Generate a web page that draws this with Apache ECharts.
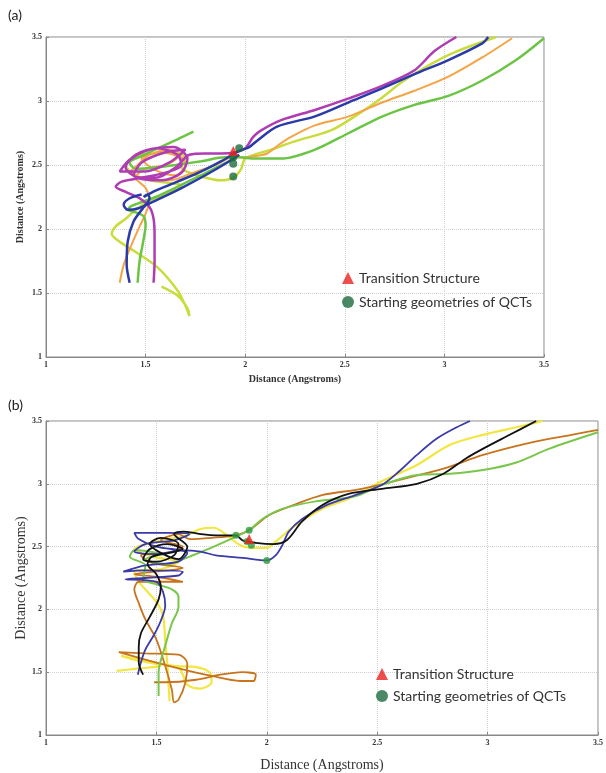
<!DOCTYPE html>
<html>
<head>
<meta charset="utf-8">
<script src="https://cdn.jsdelivr.net/npm/echarts@6/dist/echarts.min.js"></script>
<style>
	html, body { margin: 0; padding: 0; background: #fff; }
	#main { width: 606px; height: 773px; }
</style>
</head>
<body>
<div id="main"></div>
<script>
// ---- axis ticks (same for both panels)
var tickMin = 1, tickMax = 3.5, tickStep = 0.5;

// ---- panel (a) trajectories, [x, y] in Angstroms
var aMagenta = [[1.54,1.58],[1.545,1.75],[1.545,1.95],[1.54,2.08],[1.52,2.17],[1.47,2.24],[1.40,2.29],[1.35,2.33],[1.38,2.37],[1.48,2.40],[1.60,2.44],[1.68,2.50],[1.66,2.58],[1.56,2.63],[1.45,2.58],[1.40,2.48],[1.46,2.40],[1.58,2.38],[1.68,2.44],[1.71,2.55],[1.64,2.64],[1.52,2.62],[1.42,2.54],[1.37,2.45],[1.50,2.45],[1.62,2.52],[1.70,2.62],[1.60,2.60],[1.48,2.52],[1.44,2.42],[1.55,2.40],[1.65,2.48],[1.72,2.58],[1.80,2.59],[1.88,2.59],[1.95,2.60],[2.00,2.63],[2.04,2.72],[2.08,2.77],[2.18,2.85],[2.35,2.93],[2.52,3.02],[2.69,3.12],[2.85,3.24],[2.95,3.39],[3.06,3.50]];
var aBlue = [[1.42,1.58],[1.405,1.72],[1.41,1.90],[1.44,2.06],[1.49,2.17],[1.52,2.24],[1.51,2.27],[1.49,2.25],[1.55,2.30],[1.66,2.37],[1.78,2.45],[1.88,2.53],[1.97,2.61],[2.02,2.64],[2.06,2.69],[2.16,2.80],[2.35,2.88],[2.52,2.99],[2.69,3.10],[2.85,3.21],[3.02,3.32],[3.19,3.45],[3.22,3.50]];
var aBlueBack = [[1.97,2.58],[1.90,2.51],[1.80,2.42],[1.68,2.32],[1.56,2.23],[1.46,2.16],[1.41,2.15],[1.39,2.19],[1.42,2.24],[1.48,2.27]];
var aOrange = [[1.37,1.58],[1.39,1.72],[1.43,1.88],[1.47,2.02],[1.50,2.12],[1.52,2.22],[1.50,2.32],[1.45,2.40],[1.50,2.47],[1.60,2.50],[1.66,2.56],[1.58,2.60],[1.48,2.55],[1.55,2.46],[1.65,2.42],[1.70,2.50],[1.62,2.62],[1.52,2.58],[1.46,2.50],[1.42,2.44],[1.52,2.39],[1.62,2.38],[1.74,2.44],[1.85,2.50],[1.94,2.56],[1.99,2.56],[2.05,2.57],[2.11,2.59],[2.17,2.66],[2.23,2.72],[2.35,2.81],[2.52,2.88],[2.69,2.99],[2.85,3.08],[3.02,3.19],[3.19,3.34],[3.34,3.49]];
var aGreen = [[1.74,2.76],[1.66,2.70],[1.56,2.63],[1.48,2.57],[1.42,2.52],[1.45,2.47],[1.55,2.48],[1.65,2.50],[1.78,2.53],[1.90,2.56],[1.97,2.56],[2.05,2.55],[2.18,2.55],[2.35,2.62],[2.52,2.75],[2.69,2.88],[2.85,2.97],[3.02,3.04],[3.19,3.16],[3.36,3.32],[3.50,3.49]];
var aGreenBack = [[1.46,1.58],[1.47,1.75],[1.49,1.92],[1.50,2.03],[1.49,2.10],[1.45,2.13],[1.41,2.15],[1.43,2.18],[1.55,2.25],[1.66,2.33],[1.78,2.42],[1.88,2.50],[1.95,2.55]];
var aLime = [[1.58,1.55],[1.66,1.48],[1.71,1.38],[1.72,1.32],[1.70,1.40],[1.66,1.52],[1.56,1.70],[1.45,1.82],[1.37,1.90],[1.33,1.96],[1.35,2.02],[1.40,2.08],[1.45,2.15],[1.52,2.22],[1.60,2.27],[1.66,2.31],[1.68,2.34],[1.62,2.36],[1.52,2.38],[1.45,2.42],[1.40,2.50],[1.45,2.57],[1.55,2.59],[1.65,2.60],[1.70,2.55],[1.68,2.48],[1.72,2.44],[1.78,2.41],[1.87,2.38],[1.94,2.40],[1.98,2.47],[2.00,2.55],[2.13,2.62],[2.26,2.69],[2.43,2.77],[2.55,2.88],[2.69,3.03],[2.78,3.14],[2.90,3.26],[3.05,3.38],[3.26,3.50]];
var aTS = [[1.94,2.61]];
var aStart = [[1.97,2.63],[1.94,2.56],[1.94,2.51],[1.94,2.41]];

// ---- panel (b) trajectories
var bBlue = [[1.416,1.48],[1.43,1.58],[1.45,1.68],[1.49,1.80],[1.52,1.91],[1.54,2.03],[1.53,2.14],[1.50,2.22],[1.36,2.24],[1.45,2.25],[1.60,2.27],[1.62,2.30],[1.45,2.31],[1.35,2.30],[1.45,2.35],[1.60,2.38],[1.64,2.45],[1.50,2.50],[1.42,2.56],[1.40,2.61],[1.55,2.61],[1.65,2.60],[1.58,2.55],[1.45,2.52],[1.40,2.46],[1.50,2.44],[1.62,2.47],[1.70,2.46],[1.77,2.43],[1.89,2.41],[2.00,2.39],[2.04,2.43],[2.07,2.51],[2.10,2.62],[2.16,2.72],[2.27,2.83],[2.40,2.91],[2.52,2.99],[2.60,3.10],[2.68,3.23],[2.77,3.36],[2.86,3.45],[2.92,3.50]];
var bBlack = [[1.44,1.48],[1.42,1.58],[1.42,1.70],[1.43,1.81],[1.47,1.94],[1.51,2.08],[1.52,2.18],[1.50,2.28],[1.46,2.36],[1.48,2.42],[1.56,2.45],[1.62,2.48],[1.55,2.52],[1.47,2.48],[1.44,2.40],[1.50,2.38],[1.58,2.43],[1.60,2.52],[1.52,2.57],[1.47,2.52],[1.52,2.45],[1.60,2.40],[1.64,2.50],[1.58,2.60],[1.62,2.62],[1.70,2.60],[1.77,2.59],[1.86,2.59],[1.89,2.55],[1.95,2.53],[2.03,2.52],[2.09,2.55],[2.16,2.70],[2.25,2.83],[2.37,2.92],[2.52,2.96],[2.68,3.00],[2.80,3.08],[2.90,3.20],[2.98,3.28],[3.10,3.39],[3.22,3.50]];
var bYellow = [[1.56,1.27],[1.555,1.40],[1.55,1.55],[1.54,1.75],[1.53,1.95],[1.50,2.06],[1.46,2.14],[1.42,2.22],[1.40,2.30],[1.52,2.32],[1.60,2.38],[1.48,2.42],[1.40,2.48],[1.52,2.55],[1.62,2.58],[1.70,2.64],[1.76,2.65],[1.82,2.59],[1.88,2.51],[1.94,2.49],[2.00,2.49],[2.04,2.54],[2.13,2.67],[2.25,2.80],[2.37,2.88],[2.52,3.02],[2.68,3.15],[2.83,3.31],[2.98,3.39],[3.13,3.45],[3.25,3.50]];
var bYellowLoop = [[1.32,1.51],[1.42,1.53],[1.52,1.55],[1.40,1.60],[1.34,1.63],[1.45,1.59],[1.58,1.55],[1.68,1.54],[1.74,1.50],[1.75,1.42],[1.70,1.37],[1.64,1.40],[1.62,1.48],[1.60,1.55]];
var bOrange = [[1.49,1.42],[1.54,1.42],[1.68,1.44],[1.79,1.48],[1.89,1.50],[1.95,1.48],[1.94,1.43],[1.88,1.43],[1.75,1.47],[1.60,1.53],[1.45,1.60],[1.33,1.66],[1.45,1.65],[1.60,1.64],[1.64,1.57],[1.63,1.41],[1.60,1.28],[1.58,1.26],[1.57,1.36],[1.54,1.55],[1.50,1.76],[1.45,1.92],[1.42,2.05],[1.40,2.16],[1.42,2.22],[1.55,2.22],[1.62,2.22],[1.50,2.26],[1.40,2.28],[1.55,2.31],[1.62,2.33],[1.48,2.37],[1.43,2.43],[1.55,2.45],[1.62,2.50],[1.52,2.55],[1.60,2.60],[1.65,2.56],[1.75,2.57],[1.86,2.59],[1.92,2.63],[2.01,2.75],[2.12,2.83],[2.25,2.91],[2.43,2.96],[2.62,3.04],[2.80,3.12],[2.98,3.23],[3.20,3.33],[3.38,3.39],[3.50,3.43]];
var bGreen = [[1.51,1.31],[1.51,1.50],[1.54,1.71],[1.57,1.89],[1.60,2.02],[1.60,2.10],[1.57,2.16],[1.50,2.20],[1.44,2.24],[1.45,2.35],[1.38,2.42],[1.40,2.47],[1.52,2.44],[1.45,2.40],[1.55,2.36],[1.62,2.40],[1.65,2.42],[1.76,2.50],[1.86,2.58],[1.92,2.63],[1.98,2.72],[2.07,2.80],[2.22,2.86],[2.40,2.90],[2.52,2.99],[2.68,3.07],[2.83,3.08],[2.98,3.11],[3.13,3.17],[3.28,3.28],[3.50,3.41]];
var bTS = [[1.92,2.56]];
var bStart = [[1.86,2.59],[1.92,2.63],[1.91,2.54],[1.93,2.51],[2.00,2.39]];

var legendNames = ['Transition Structure', 'Starting geometries of QCTs'];

var chartDom = document.getElementById('main');
var myChart = echarts.init(chartDom, null, { renderer: 'canvas' });

function makeAxis(gi, name, nameSize, nameBold, nameGap) {
	return {
		type: 'value',
		gridIndex: gi,
		min: tickMin,
		max: tickMax,
		interval: tickStep,
		name: name,
		nameLocation: 'middle',
		nameGap: nameGap,
		nameMoveOverlap: false,
		nameTextStyle: {
			fontFamily: 'Liberation Serif',
			fontSize: nameSize,
			fontWeight: nameBold ? 'bold' : 'normal',
			color: '#333'
		},
		axisLine: { show: true, onZero: false, lineStyle: { color: '#888', width: 1 } },
		axisTick: { show: true, inside: true, length: 3, lineStyle: { color: '#888' } },
		axisLabel: {
			fontFamily: 'Liberation Serif',
			fontWeight: 'bold',
			fontSize: 8,
			color: '#333',
			margin: 4
		},
		splitLine: { show: true, lineStyle: { color: '#cfcfcf', type: 'dotted', width: 1 } }
	};
}

function traj(gi, data, color, w) {
	return {
		type: 'line',
		xAxisIndex: gi,
		yAxisIndex: gi,
		data: data,
		smooth: 0.3,
		showSymbol: false,
		symbol: 'none',
		silent: true,
		lineStyle: { color: color, width: w },
		z: 2
	};
}

function marks(gi, ts, st, dotColor, tsSize, dotSize) {
	return [{
		name: legendNames[0],
		type: 'scatter',
		xAxisIndex: gi,
		yAxisIndex: gi,
		data: ts,
		symbol: 'triangle',
		symbolSize: tsSize,
		itemStyle: { color: '#e8231e' },
		z: 5
	}, {
		name: legendNames[1],
		type: 'scatter',
		xAxisIndex: gi,
		yAxisIndex: gi,
		data: st,
		symbol: 'circle',
		symbolSize: dotSize,
		itemStyle: { color: dotColor },
		z: 4
	}];
}

var series = [
	traj(0, aLime, '#c8dc3c', 2.5),
	traj(0, aOrange, '#f5a445', 2),
	traj(0, aGreenBack, '#6cc444', 2.5),
	traj(0, aGreen, '#6cc444', 2.5),
	traj(0, aMagenta, '#b03cb4', 2.5),
	traj(0, aBlueBack, '#2a3aa8', 2.5),
	traj(0, aBlue, '#2a3aa8', 2.5),

	traj(1, bYellowLoop, '#f2e640', 2.2),
	traj(1, bYellow, '#f2e640', 2.2),
	traj(1, bOrange, '#c8741c', 1.8),
	traj(1, bGreen, '#78c64a', 2),
	traj(1, bBlue, '#3a3aa8', 1.8),
	traj(1, bBlack, '#111111', 1.8)
];
series = series.concat(marks(0, aTS, aStart, '#1d6b3c', 10, 8));
series = series.concat(marks(1, bTS, bStart, '#2e9a3e', 10, 7));

var legendText = { fontFamily: 'Lato', fontSize: 14, color: '#333' };

var option = {
	backgroundColor: '#fff',
	animation: false,
	grid: [
		{ left: 46, top: 37, width: 498, height: 320, show: true, borderColor: '#888', borderWidth: 1, backgroundColor: 'transparent' },
		{ left: 46, top: 421, width: 553, height: 315, show: true, borderColor: '#888', borderWidth: 1, backgroundColor: 'transparent' }
	],
	xAxis: [
		makeAxis(0, 'Distance (Angstroms)', 10, true, 17),
		makeAxis(1, 'Distance (Angstroms)', 14, false, 23)
	],
	yAxis: [
		makeAxis(0, 'Distance (Angstroms)', 10, true, 21),
		makeAxis(1, 'Distance (Angstroms)', 14, false, 18)
	],
	legend: [
		{ data: legendNames, left: 337, top: 266, orient: 'vertical', itemWidth: 12, itemHeight: 12, itemGap: 10, textStyle: legendText, selectedMode: false },
		{ data: legendNames, left: 371, top: 662, orient: 'vertical', itemWidth: 12, itemHeight: 12, itemGap: 8, textStyle: legendText, selectedMode: false }
	],
	graphic: [
		{ type: 'text', left: 8, top: 8, style: { text: '(a)', font: '14px Lato', fill: '#222' } },
		{ type: 'text', left: 8, top: 398, style: { text: '(b)', font: '14px Lato', fill: '#222' } }
	],
	series: series
};

myChart.setOption(option);
</script>
</body>
</html>
